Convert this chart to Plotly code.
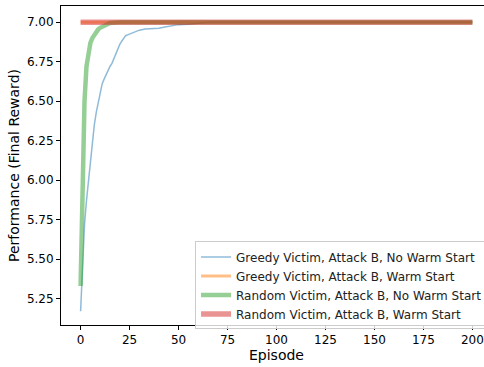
import plotly.graph_objects as go

# Data
greedy_nows_ep = [0, 1, 2, 3, 4, 5, 6, 7, 8, 9, 10, 11, 12, 13, 14, 15, 16, 17, 18, 19, 20,
                  21, 22, 23, 24, 25, 26, 28, 30, 33, 36, 40, 43, 47, 50, 55, 60, 65, 70,
                  80, 100, 120, 140, 160, 180, 200]
greedy_nows_val = [5.17, 5.50, 5.72, 5.87, 6.00, 6.13, 6.25, 6.35, 6.43, 6.49, 6.55, 6.61, 6.64,
                   6.67, 6.70, 6.72, 6.74, 6.77, 6.80, 6.84, 6.86, 6.88, 6.90, 6.915, 6.92,
                   6.925, 6.93, 6.94, 6.95, 6.957, 6.96, 6.962, 6.97, 6.98, 6.985, 6.988,
                   6.993, 7.0, 7.0, 7.0, 7.0, 7.0, 7.0, 7.0, 7.0, 7.0]

greedy_ws_ep = [0, 50, 100, 150, 200]
greedy_ws_val = [7.0, 7.0, 7.0, 7.0, 7.0]

random_nows_ep = [0, 1, 2, 3, 4, 5, 6, 7, 8, 9, 10, 12, 15, 20, 30, 50, 100, 150, 200]
random_nows_val = [5.33, 6.10, 6.50, 6.72, 6.82, 6.87, 6.90, 6.92, 6.94, 6.955, 6.965,
                   6.98, 6.995, 7.0, 7.0, 7.0, 7.0, 7.0, 7.0]

random_ws_ep = [0, 50, 100, 150, 200]
random_ws_val = [7.0, 7.0, 7.0, 7.0, 7.0]

names = ["Greedy Victim, Attack B, No Warm Start",
         "Greedy Victim, Attack B, Warm Start",
         "Random Victim, Attack B, No Warm Start",
         "Random Victim, Attack B, Warm Start"]

x_ticks = [0, 25, 50, 75, 100, 125, 150, 175, 200]
y_ticks = [5.25, 5.50, 5.75, 6.00, 6.25, 6.50, 6.75, 7.00]

fig = go.Figure()
fig.add_trace(go.Scatter(x=greedy_nows_ep, y=greedy_nows_val, mode="lines", name=names[0],
                         line=dict(color="rgba(31,119,180,0.5)", width=1.5)))
fig.add_trace(go.Scatter(x=greedy_ws_ep, y=greedy_ws_val, mode="lines", name=names[1],
                         line=dict(color="rgba(255,127,14,0.5)", width=3)))
fig.add_trace(go.Scatter(x=random_nows_ep, y=random_nows_val, mode="lines", name=names[2],
                         line=dict(color="rgba(44,160,44,0.5)", width=4.5)))
fig.add_trace(go.Scatter(x=random_ws_ep, y=random_ws_val, mode="lines", name=names[3],
                         line=dict(color="rgba(214,39,40,0.5)", width=5.5)))

font = "DejaVu Sans"
fig.update_layout(
    width=492, height=367,
    margin=dict(l=61, r=0, t=6, b=42, autoexpand=False),
    paper_bgcolor="white", plot_bgcolor="white",
    font=dict(family=font, size=12, color="black"),
    showlegend=True,
    legend=dict(x=0.311, y=0.262, xanchor="left", yanchor="top",
                bgcolor="rgba(255,255,255,0.8)", bordercolor="#cccccc", borderwidth=1,
                font=dict(family=font, size=12, color="#222222"),
                tracegroupgap=0, itemwidth=30),
)
fig.update_xaxes(range=[-10, 210], tickvals=x_ticks, ticktext=[str(v) for v in x_ticks],
                 showgrid=False, zeroline=False, showline=True, linecolor="black",
                 linewidth=1, mirror=True, ticks="outside", ticklen=4, tickcolor="black",
                 title=dict(text="Episode", standoff=3), tickfont=dict(size=12),
                 automargin=False)
fig.update_yaxes(range=[5.083, 7.103], tickvals=y_ticks,
                 ticktext=[f"{v:.2f}" for v in y_ticks],
                 showgrid=False, zeroline=False, showline=True, linecolor="black",
                 linewidth=1, mirror=False, ticks="outside", ticklen=4, tickcolor="black",
                 title=dict(text="Performance (Final Reward)", standoff=3),
                 tickfont=dict(size=12), automargin=False)

fig.write_html("out.html",
               config={"displayModeBar": False},
               post_script="document.body.style.margin='0';document.body.style.padding='0';"
                           "document.documentElement.style.overflow='hidden';"
                           "document.body.style.overflow='hidden';")
